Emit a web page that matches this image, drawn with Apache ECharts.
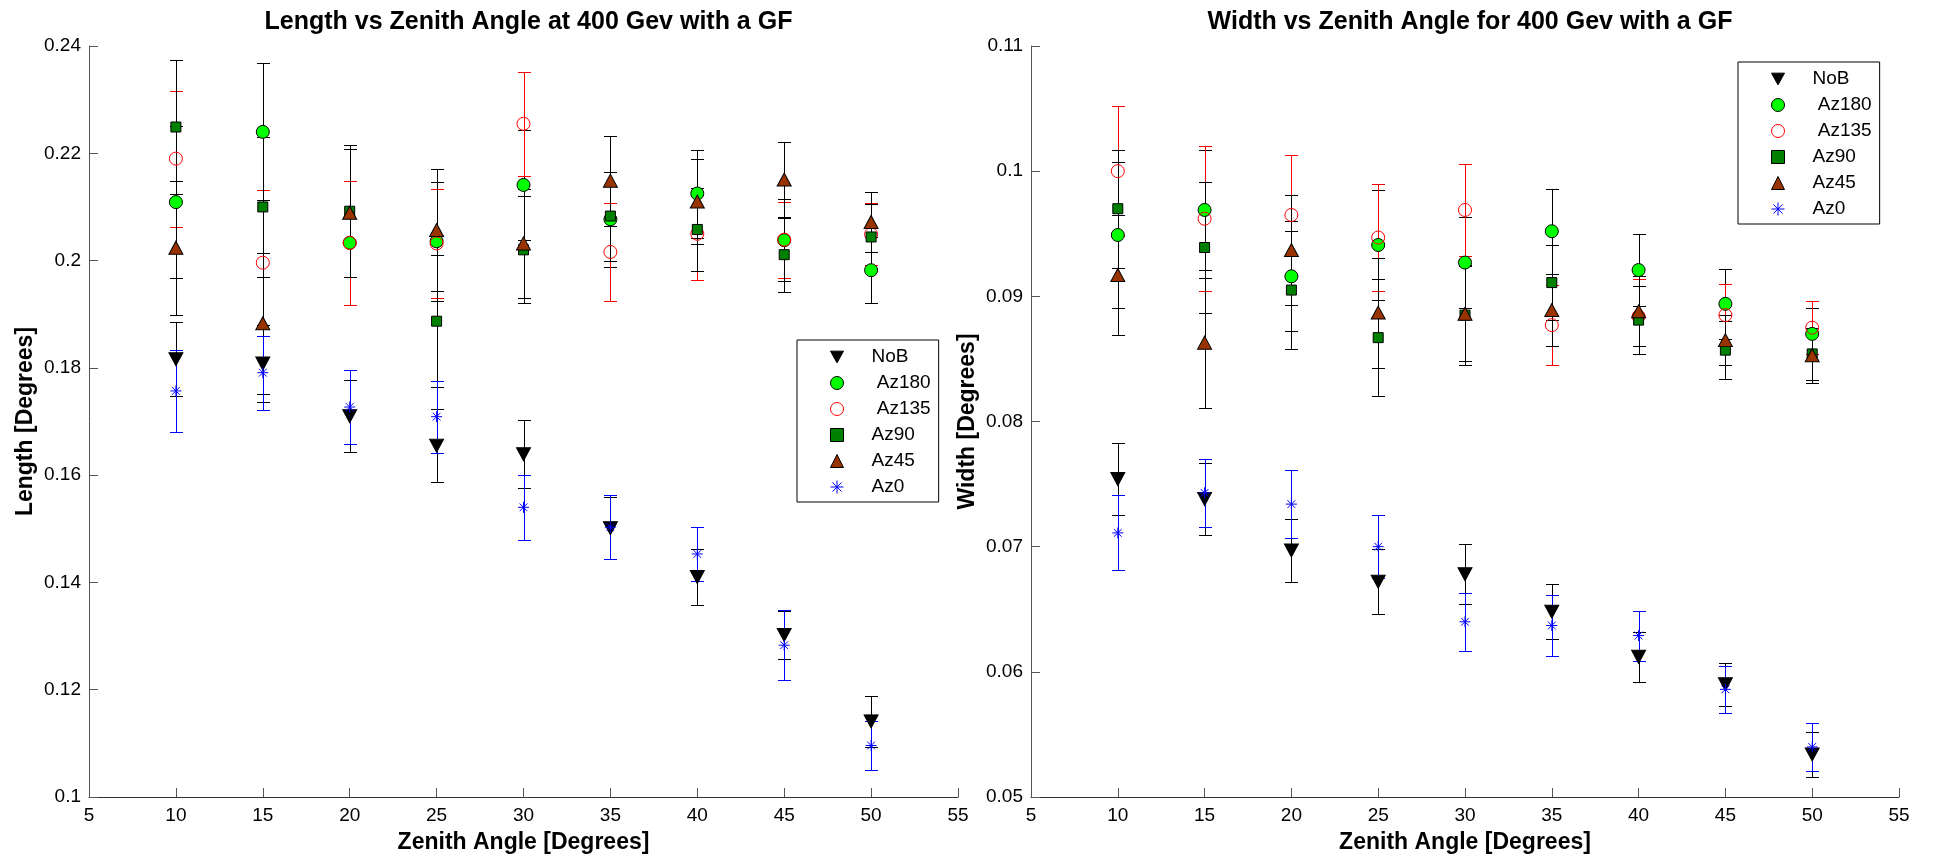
<!DOCTYPE html>
<html><head><meta charset="utf-8">
<script src="https://cdn.jsdelivr.net/npm/echarts@6/dist/echarts.min.js"></script>
<style>html,body{margin:0;padding:0;background:#fff}#c{width:1933px;height:863px}</style>
</head><body><div id="c"></div>
<script>
// ---------- data ----------
const zenith = [10, 15, 20, 25, 30, 35, 40, 45, 50];
const seriesNames = ['NoB', ' Az180', ' Az135', 'Az90', 'Az45', 'Az0'];

// Length [Degrees]
const lenNoB      = [0.1816, 0.1808, 0.1710, 0.1655, 0.1639, 0.1501, 0.1410, 0.1302, 0.1141];
const lenNoBErr   = [0.0069, 0.0071, 0.0067, 0.0068, 0.0063, 0.0058, 0.0053, 0.0045, 0.0048];
const lenAz180    = [0.2109, 0.2240, 0.2033, 0.2036, 0.2141, 0.2077, 0.2125, 0.2038, 0.1982];
const lenAz180Err = [0.0142, 0.0128, 0.0115, 0.0111, 0.0102, 0.0089, 0.0082, 0.0076, 0.0062];
const lenAz135    = [0.2190, 0.1996, 0.2033, 0.2032, 0.2255, 0.2016, 0.2050, 0.2039, 0.2049];
const lenAz135Err = [0.0127, 0.0136, 0.0115, 0.0102, 0.0097, 0.0092, 0.0086, 0.0071, 0.0058];
const lenAz90     = [0.2249, 0.2100, 0.2092, 0.1887, 0.2020, 0.2083, 0.2058, 0.2011, 0.2044];
const lenAz90Err  = [0.0124, 0.0131, 0.0123, 0.0123, 0.0100, 0.0083, 0.0078, 0.0069, 0.0061];
const lenAz45     = [0.2024, 0.1883, 0.2089, 0.2057, 0.2032, 0.2149, 0.2110, 0.2151, 0.2072];
const lenAz45Err  = [0.0125, 0.0131, 0.0119, 0.0113, 0.0101, 0.0084, 0.0080, 0.0070, 0.0056];
const lenAz0      = [0.1757, 0.1791, 0.1727, 0.1709, 0.1540, 0.1503, 0.1453, 0.1283, 0.1096];
const lenAz0Err   = [0.0076, 0.0069, 0.0069, 0.0067, 0.0060, 0.0060, 0.0051, 0.0065, 0.0046];

// Width [Degrees]
const widNoB      = [0.0754, 0.0738, 0.0697, 0.0672, 0.0678, 0.0648, 0.0612, 0.0590, 0.0534];
const widNoBErr   = [0.0029, 0.0029, 0.0025, 0.0026, 0.0024, 0.0022, 0.0020, 0.0017, 0.0018];
const widAz180    = [0.0949, 0.0969, 0.0916, 0.0941, 0.0927, 0.0952, 0.0921, 0.0894, 0.0870];
const widAz180Err = [0.0058, 0.0048, 0.0044, 0.0044, 0.0036, 0.0034, 0.0029, 0.0028, 0.0021];
const widAz135    = [0.1000, 0.0962, 0.0965, 0.0947, 0.0969, 0.0877, 0.0884, 0.0885, 0.0875];
const widAz135Err = [0.0052, 0.0058, 0.0048, 0.0043, 0.0037, 0.0032, 0.0030, 0.0025, 0.0021];
const widAz90     = [0.0970, 0.0939, 0.0905, 0.0867, 0.0885, 0.0911, 0.0881, 0.0857, 0.0854];
const widAz90Err  = [0.0047, 0.0052, 0.0047, 0.0047, 0.0040, 0.0030, 0.0027, 0.0023, 0.0021];
const widAz45     = [0.0917, 0.0863, 0.0937, 0.0887, 0.0886, 0.0889, 0.0888, 0.0865, 0.0853];
const widAz45Err  = [0.0048, 0.0052, 0.0044, 0.0044, 0.0038, 0.0029, 0.0028, 0.0020, 0.0022];
const widAz0      = [0.0711, 0.0743, 0.0734, 0.0700, 0.0640, 0.0637, 0.0629, 0.0586, 0.0540];
const widAz0Err   = [0.0030, 0.0027, 0.0027, 0.0025, 0.0023, 0.0024, 0.0020, 0.0019, 0.0019];

const xTicks = [5, 10, 15, 20, 25, 30, 35, 40, 45, 50, 55];
const lenTicks = [0.1, 0.12, 0.14, 0.16, 0.18, 0.2, 0.22, 0.24];
const widTicks = [0.05, 0.06, 0.07, 0.08, 0.09, 0.1, 0.11];

const titles = ['Length vs Zenith Angle at 400 Gev with a GF', 'Width vs Zenith Angle for 400 Gev with a GF'];
const yNames = ['Length [Degrees]', 'Width [Degrees]'];
const xName = 'Zenith Angle [Degrees]';

const lenSets = [[lenNoB, lenNoBErr], [lenAz180, lenAz180Err], [lenAz135, lenAz135Err], [lenAz90, lenAz90Err], [lenAz45, lenAz45Err], [lenAz0, lenAz0Err]];
const widSets = [[widNoB, widNoBErr], [widAz180, widAz180Err], [widAz135, widAz135Err], [widAz90, widAz90Err], [widAz45, widAz45Err], [widAz0, widAz0Err]];

// ---------- styles ----------
const FONT = '"Liberation Sans", Arial, Helvetica, sans-serif';
const styles = [
  {symbol: 'path://M0,0L10,0L5,9Z', size: [14, 13], legendSize: 13, fill: '#000000', stroke: '#000000', bar: '#000000'},
  {symbol: 'circle', size: 13, legendSize: 13, fill: '#00ff00', stroke: '#000000', bar: '#000000'},
  {symbol: 'circle', size: 13, legendSize: 13, fill: 'rgba(0,0,0,0)', stroke: '#ff0000', bar: '#ff0000'},
  {symbol: 'rect', size: 10, legendSize: 10, fill: '#008000', stroke: '#000000', bar: '#000000'},
  {symbol: 'triangle', size: [14, 13], legendSize: 13, fill: '#993300', stroke: '#000000', bar: '#000000'},
  {symbol: 'path://M5,0L5,10M0,5L10,5M1.5,1.5L8.5,8.5M8.5,1.5L1.5,8.5', size: 11, legendSize: 11, fill: 'rgba(0,0,0,0)', stroke: '#0000ff', bar: '#0000ff'}
];

function errRender(color) {
  return function (params, api) {
    const x = api.value(0), y = api.value(1), e = api.value(2);
    const hi = api.coord([x, y + e]), lo = api.coord([x, y - e]);
    const cx = Math.round(hi[0]) + 0.5;
    const yh = Math.round(hi[1]) + 0.5, yl = Math.round(lo[1]) + 0.5;
    const w = 6.5;
    const st = {stroke: color, lineWidth: 1};
    return {type: 'group', children: [
      {type: 'line', shape: {x1: cx, y1: yh, x2: cx, y2: yl}, style: st},
      {type: 'line', shape: {x1: cx - w, y1: yh, x2: cx + w, y2: yh}, style: st},
      {type: 'line', shape: {x1: cx - w, y1: yl, x2: cx + w, y2: yl}, style: st}
    ]};
  };
}

const series = [];
[lenSets, widSets].forEach(function (sets, gi) {
  sets.forEach(function (pair, si) {
    const st = styles[si];
    const vals = pair[0], errs = pair[1];
    series.push({
      type: 'custom', name: seriesNames[si] + ' err' + gi, xAxisIndex: gi, yAxisIndex: gi,
      silent: true, clip: false,
      dimensions: ['x', 'y', 'e'], encode: {x: 0, y: 1},
      renderItem: errRender(st.bar),
      data: zenith.map(function (z, i) { return [z, vals[i], errs[i]]; })
    });
    series.push({
      type: 'scatter', name: seriesNames[si], xAxisIndex: gi, yAxisIndex: gi, silent: true,
      symbol: st.symbol, symbolSize: st.size,
      itemStyle: {color: st.fill, borderColor: st.stroke, borderWidth: 1, opacity: 1},
      data: zenith.map(function (z, i) { return [z, vals[i]]; })
    });
  });
});

function fmt(v) { return String(parseFloat(Number(v).toFixed(4))); }

const grids = [
  {left: 89, width: 869, top: 46, height: 751},
  {left: 1031, width: 868, top: 46, height: 751}
];
const yRanges = [lenTicks, widTicks];

const option = {
  backgroundColor: '#ffffff',
  animation: false,
  title: titles.map(function (t, i) {
    return {text: t, left: grids[i].left + grids[i].width / 2, top: 5, textAlign: 'center',
      textStyle: {fontFamily: FONT, fontSize: 25, fontWeight: 'bold', color: '#000'}};
  }),
  grid: grids,
  xAxis: grids.map(function (g, i) {
    return {
      type: 'value', gridIndex: i, min: xTicks[0], max: xTicks[xTicks.length - 1], interval: xTicks[1] - xTicks[0],
      name: xName, nameLocation: 'middle', nameGap: 34,
      nameTextStyle: {fontFamily: FONT, fontSize: 23, fontWeight: 'bold', color: '#000'},
      axisLine: {show: true, onZero: false, lineStyle: {color: '#333', width: 1}},
      axisTick: {show: true, inside: true, length: 9, lineStyle: {color: '#555', width: 1}},
      axisLabel: {margin: 9, fontFamily: FONT, fontSize: 19, color: '#000', formatter: fmt},
      splitLine: {show: false}
    };
  }),
  yAxis: grids.map(function (g, i) {
    const t = yRanges[i];
    return {
      type: 'value', gridIndex: i, min: t[0], max: t[t.length - 1], interval: +(t[1] - t[0]).toFixed(4),
      name: yNames[i], nameLocation: 'middle', nameGap: 52,
      nameTextStyle: {fontFamily: FONT, fontSize: 23, fontWeight: 'bold', color: '#000'},
      axisLine: {show: true, onZero: false, lineStyle: {color: '#555', width: 1}},
      axisTick: {show: true, inside: true, length: 9, lineStyle: {color: '#555', width: 1}},
      axisLabel: {margin: 8, fontFamily: FONT, fontSize: 19, color: '#000', formatter: fmt},
      splitLine: {show: false}
    };
  }),
  legend: [
    {left: 797, top: 340},
    {left: 1738, top: 62}
  ].map(function (pos) {
    return {
      data: seriesNames.map(function (n, i) {
        return {name: n, icon: styles[i].symbol};
      }),
      orient: 'vertical', left: pos.left, top: pos.top,
      padding: [7, 8, 5, 33], itemWidth: 13, itemHeight: 13, itemGap: 6,
      borderColor: '#000', borderWidth: 1, backgroundColor: '#fff',
      selectedMode: false,
      itemStyle: {borderWidth: 1},
      textStyle: {fontFamily: FONT, fontSize: 19, color: '#000', lineHeight: 20, padding: [0, 0, 0, 23]}
    };
  }),
  series: series
};

const chart = echarts.init(document.getElementById('c'), null, {renderer: 'canvas', width: 1933, height: 863});
chart.setOption(option);
</script>
</body></html>
